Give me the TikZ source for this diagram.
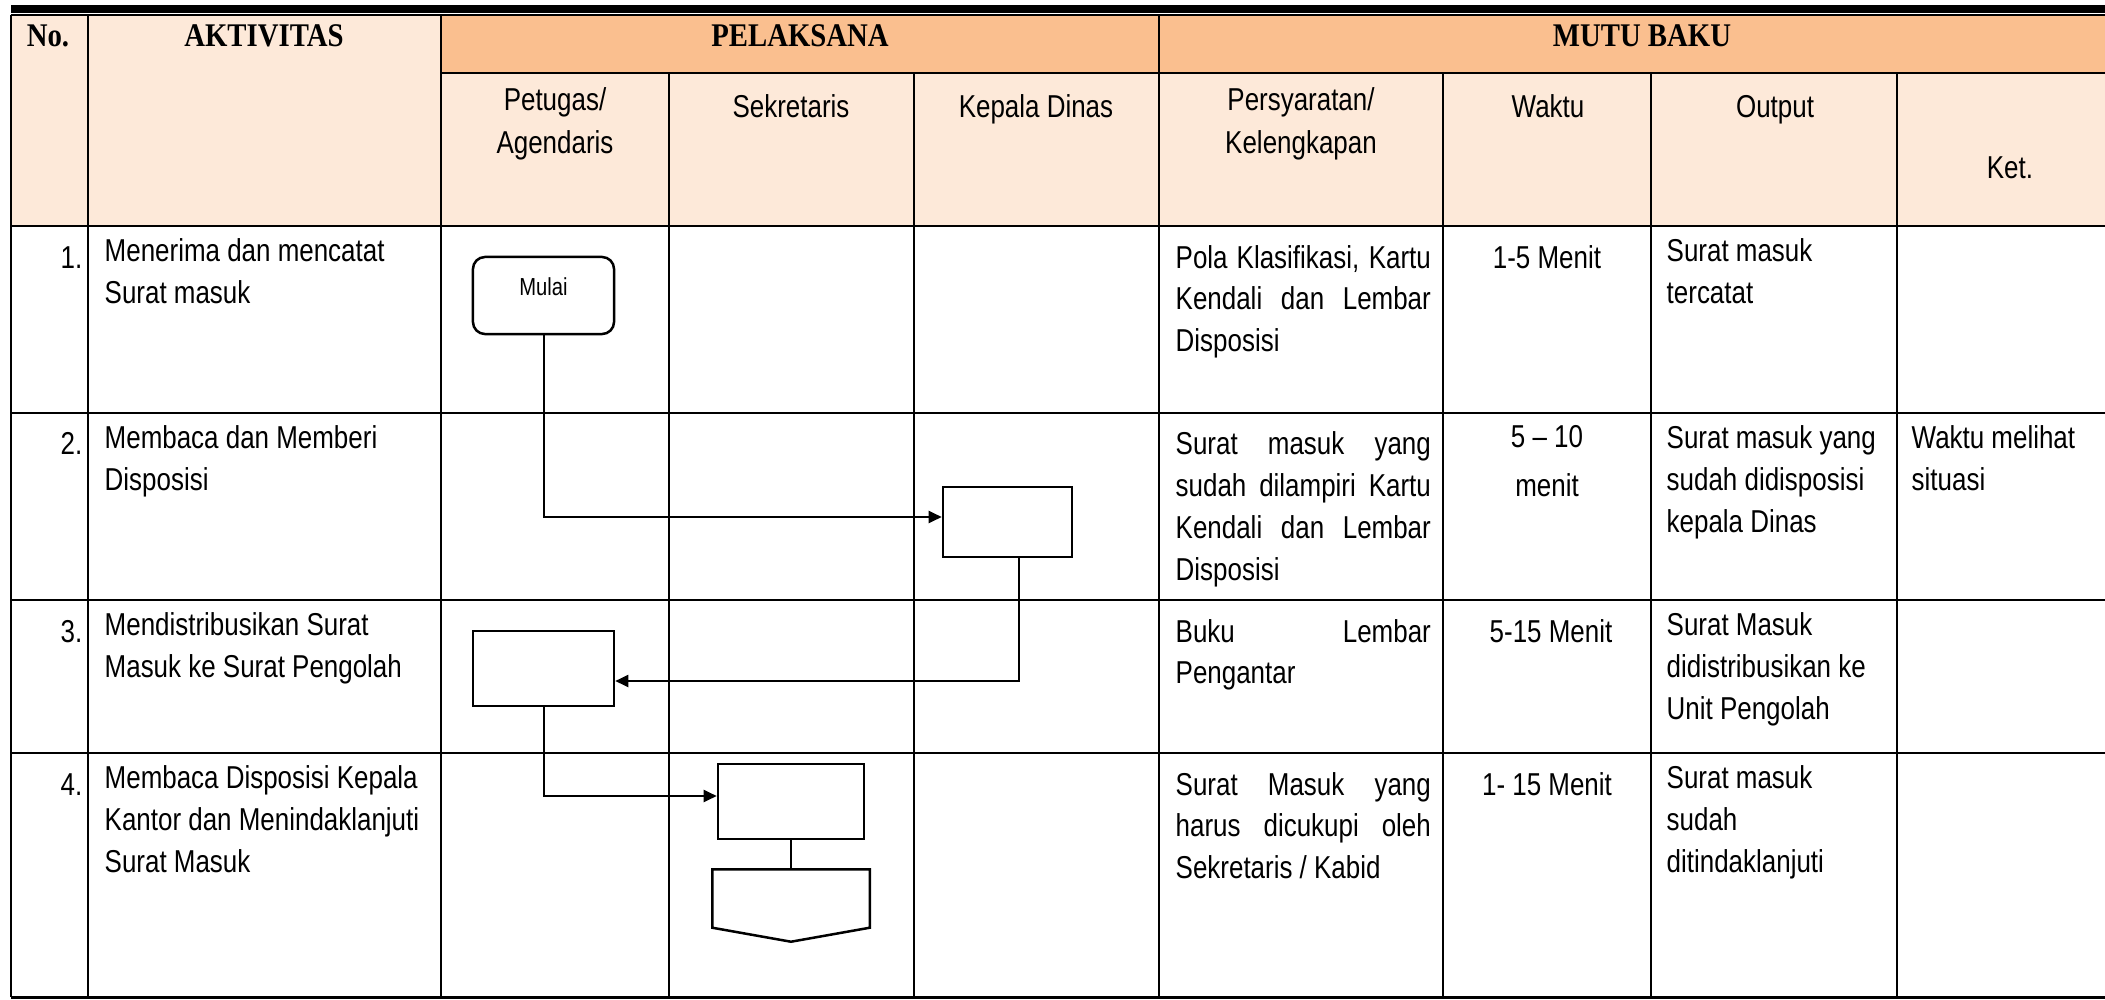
\documentclass[tikz,border=0pt]{standalone}
\usepackage{fontspec}
\setmainfont{Liberation Sans}[FakeStretch=0.82]
\newfontfamily\hdfont{Liberation Serif}[FakeStretch=0.87]
\usetikzlibrary{positioning,arrows.meta}
\definecolor{headdark}{HTML}{FABF8F}
\definecolor{headlight}{HTML}{FDE9D9}

\begin{document}
\begin{tikzpicture}[
  x=0.01cm, y=-0.01cm,
  grid/.style={draw=black, line width=0.018cm},
  hd/.style={font=\hdfont\bfseries\fontsize{9.4}{11}\selectfont,
             inner sep=0pt, anchor=base},
  sub/.style={font=\fontsize{9}{12.3}\selectfont, inner sep=0pt,
              anchor=north, align=center, execute at begin node=\strut},
  cell/.style={font=\fontsize{9}{11.9}\selectfont, inner sep=0pt,
               anchor=north west, align=left, execute at begin node=\strut},
  num/.style={cell, anchor=north east, align=right},
  mid/.style={cell, anchor=north, align=center},
  just/.style={cell, text width=2.55cm, align=justify},
  box/.style={draw=black, line width=0.025cm, fill=white, inner sep=0pt},
  startbox/.style={box, rounded corners=0.12cm, font=\fontsize{7}{8.4}\selectfont,
                   text height=2pt, text depth=2pt},
  arrow/.style={-{Triangle[length=0.13cm,width=0.12cm]}, line width=0.02cm},
  link/.style={line width=0.02cm}
]
  \useasboundingbox (0,0) rectangle (2105,1000);

  % header fills
  \fill[black] (11,5) rectangle (2105,12.7);
  \fill[headlight] (11,15) rectangle (441,226);
  \fill[headdark]  (441,15) rectangle (2105,73);
  \fill[headlight] (441,73) rectangle (2105,226);

  % table lines
  \draw[grid] (11,15) -- (2105,15);
  \draw[grid] (441,73) -- (2105,73);
  \draw[grid] (11,226) -- (2105,226);
  \draw[grid] (11,413) -- (2105,413);
  \draw[grid] (11,600) -- (2105,600);
  \draw[grid] (11,753) -- (2105,753);
  \draw[line width=0.03cm] (11,997) -- (2105,997);
  \draw[grid] (11,15) -- (11,997);
  \draw[grid] (88,15) -- (88,997);
  \draw[grid] (441,15) -- (441,997);
  \draw[grid] (1159,15) -- (1159,997);
  \draw[grid] (669,73) -- (669,997);
  \draw[grid] (914,73) -- (914,997);
  \draw[grid] (1443,73) -- (1443,997);
  \draw[grid] (1651,73) -- (1651,997);
  \draw[grid] (1897,73) -- (1897,997);

  % headers
  \node[hd] (hno)   at (48,47)   {No.};
  \node[hd] (hakt)  at (264,47)  {AKTIVITAS};
  \node[hd] (hpel)  at (800,47)  {PELAKSANA};
  \node[hd] (hmutu) at (1642,47) {MUTU BAKU};

  \node[sub] (spetugas) at (555,87)  {Petugas/\\Agendaris};
  \node[sub] (ssekre)   at (791,87)  {Sekretaris};
  \node[sub] (skadis)   at (1036,87) {Kepala Dinas};
  \node[sub] (ssyarat)  at (1301,87) {Persyaratan/\\Kelengkapan};
  \node[sub] (swaktu)   at (1548,87) {Waktu};
  \node[sub] (soutput)  at (1775,87) {Output};
  \node[sub] (sket)     at (2010,148) {Ket.};

  % row 1
  \node[num]  (n1)      at (83,238)   {1.};
  \node[cell] (akt1)    at (104,238)  {Menerima dan mencatat\\Surat masuk};
  \node[just] (syarat1) at (1175,238) {Pola Klasifikasi, Kartu\linebreak Kendali dan Lembar\linebreak Disposisi};
  \node[mid]  (waktu1)  at (1547,238) {1-5 Menit};
  \node[cell] (output1) at (1666,238) {Surat masuk\\tercatat};

  % row 2
  \node[num]  (n2)      at (83,425)   {2.};
  \node[cell] (akt2)    at (104,425)  {Membaca dan Memberi\\Disposisi};
  \node[just] (syarat2) at (1175,425) {Surat masuk yang\linebreak sudah dilampiri Kartu\linebreak Kendali dan Lembar\linebreak Disposisi};
  \node[mid]  (waktu2)  at (1547,425) {5 – 10\\[0.07cm]menit};
  \node[cell] (output2) at (1666,425) {Surat masuk yang\\sudah didisposisi\\kepala Dinas};
  \node[cell] (ket2)    at (1911,425) {Waktu melihat\\situasi};

  % row 3
  \node[num]  (n3)      at (83,612)   {3.};
  \node[cell] (akt3)    at (104,612)  {Mendistribusikan Surat\\Masuk ke Surat Pengolah};
  \node[just] (syarat3) at (1175,612) {Buku Lembar\linebreak Pengantar};
  \node[mid]  (waktu3)  at (1551,612) {5-15 Menit};
  \node[cell] (output3) at (1666,612) {Surat Masuk\\didistribusikan ke\\Unit Pengolah};

  % row 4
  \node[num]  (n4)      at (83,765)   {4.};
  \node[cell] (akt4)    at (104,765)  {Membaca Disposisi Kepala\\Kantor dan Menindaklanjuti\\Surat Masuk};
  \node[just] (syarat4) at (1175,765) {Surat Masuk yang\linebreak harus dicukupi oleh\linebreak Sekretaris / Kabid};
  \node[mid]  (waktu4)  at (1547,765) {1- 15 Menit};
  \node[cell] (output4) at (1666,765) {Surat masuk\\sudah\\ditindaklanjuti};

  % flow
  \node[startbox, minimum width=1.41cm, minimum height=0.77cm] (mulai) at (543.5,295.5) {Mulai};
  \node[box, minimum width=1.29cm, minimum height=0.70cm] (kadis)  at (1007.5,522) {};
  \node[box, minimum width=1.41cm, minimum height=0.75cm] (agenda) at (543.5,668.5) {};
  \node[box, minimum width=1.46cm, minimum height=0.75cm] (sekre)  at (791,801.5) {};
  \node[inner sep=0pt, minimum width=1.56cm, minimum height=0.71cm] (offpage) at (791,905.5) {};
  \draw[box] (offpage.north west) -- (offpage.north east)
    -- ([yshift=0.14cm]offpage.south east) -- (offpage.south)
    -- ([yshift=0.14cm]offpage.south west) -- cycle;

  \draw[arrow] (mulai.south) |- ([yshift=0.05cm]kadis.west);
  \draw[arrow] ([xshift=0.11cm]kadis.south) |- ([yshift=-0.125cm]agenda.east);
  \draw[arrow] (agenda.south) |- ([yshift=0.055cm]sekre.west);
  \draw[link] (sekre.south) -- (offpage.north);
\end{tikzpicture}
\end{document}
